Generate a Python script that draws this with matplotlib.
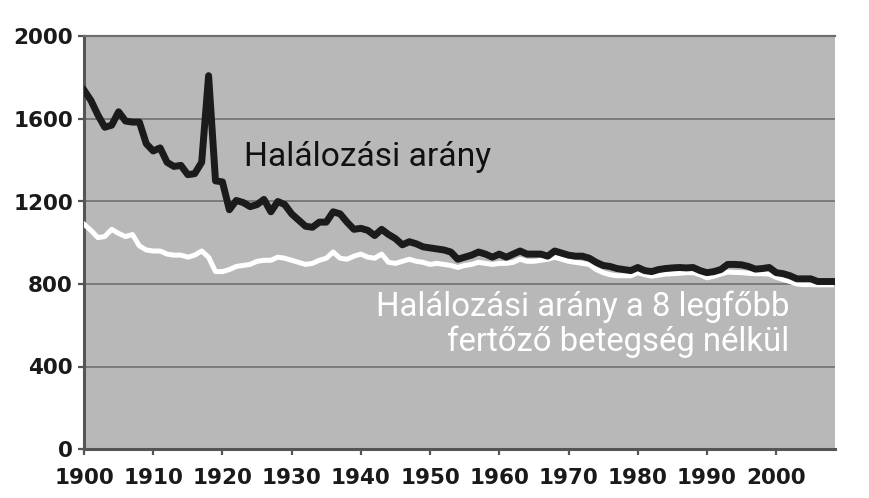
import matplotlib
matplotlib.use("Agg")
import matplotlib.pyplot as plt
import numpy as np

years = list(range(1900, 2009))

total_rate = [
    1740, 1690, 1620, 1560, 1570, 1635, 1590, 1585, 1585, 1480,  # 1900-1909
    1445, 1460, 1390, 1370, 1375, 1330, 1335, 1390, 1810, 1300,  # 1910-1919
    1295, 1160, 1205, 1195, 1175, 1185, 1210, 1150, 1200, 1185,  # 1920-1929
    1140, 1110, 1080, 1075, 1100, 1100, 1150, 1140, 1100, 1065,  # 1930-1939
    1070, 1060, 1035, 1065, 1040, 1020, 990, 1005, 995, 980,     # 1940-1949
    975, 970, 965, 955, 920, 930, 940, 955, 945, 930,            # 1950-1959
    945, 930, 945, 960, 945, 945, 945, 935, 960, 950,            # 1960-1969
    940, 935, 935, 925, 905, 890, 885, 875, 870, 865,            # 1970-1979
    880, 865, 860, 870, 875, 878, 880, 878, 880, 865,            # 1980-1989
    855, 860, 870, 895, 895, 893, 885, 872, 875, 880,            # 1990-1999
    855, 850, 840, 825, 825, 825, 812, 812, 812,                 # 2000-2008
]

noninfectious_rate = [
    1090, 1060, 1025, 1030, 1065, 1045, 1030, 1040, 985, 965,    # 1900-1909
    960, 960, 945, 940, 940, 930, 940, 960, 930, 860,            # 1910-1919
    860, 870, 885, 890, 895, 910, 915, 915, 930, 925,            # 1920-1929
    915, 905, 895, 900, 915, 925, 955, 925, 920, 935,            # 1930-1939
    945, 930, 925, 945, 905, 900, 910, 920, 910, 905,            # 1940-1949
    895, 900, 895, 890, 880, 890, 895, 905, 900, 895,            # 1950-1959
    900, 900, 905, 920, 910, 910, 915, 920, 930, 920,            # 1960-1969
    910, 905, 900, 895, 870, 855, 845, 840, 840, 840,            # 1970-1979
    855, 845, 838, 843, 848, 850, 852, 855, 855, 845,            # 1980-1989
    830, 838, 848, 858, 856, 855, 852, 850, 850, 848,            # 1990-1999
    832, 822, 812, 800, 797, 797, 796, 796, 796,                 # 2000-2008
]

x_ticks = list(range(1900, 2001, 10))
y_ticks = [0, 400, 800, 1200, 1600, 2000]

label_total = "Halálozási arány"
label_non_1 = "Halálozási arány a 8 legfőbb"
label_non_2 = "fertőző betegség nélkül"

fig = plt.figure(figsize=(8.7, 4.98), dpi=100)
ax = fig.add_axes([84 / 870, 1 - 449 / 498, (835 - 84) / 870, (449 - 36.5) / 498])
ax.set_facecolor("#b8b8b8")

ax.plot(years, noninfectious_rate, color="white", lw=3.6, solid_joinstyle="round", zorder=3)
ax.plot(years, total_rate, color="#1b1b1b", lw=5.0, solid_joinstyle="round", zorder=4)

ax.set_xlim(1900, 2008.5)
ax.set_ylim(0, 2000)
ax.set_xticks(x_ticks)
ax.set_yticks(y_ticks)
ax.set_xticklabels([str(v) for v in x_ticks])
ax.set_yticklabels([str(v) for v in y_ticks])

ax.grid(axis="y", color="#7a7a7a", lw=1.4, zorder=1)
ax.set_axisbelow(True)

for s in ["left", "bottom"]:
    ax.spines[s].set_color("#555555")
    ax.spines[s].set_linewidth(2.2)
ax.spines["top"].set_color("#6e6e6e")
ax.spines["top"].set_linewidth(1.6)
ax.spines["right"].set_visible(False)

ax.tick_params(axis="both", colors="#555555", width=1.6, length=4,
               labelcolor="#1a1a1a", labelsize=15.5)
ax.tick_params(axis="y", pad=4)
ax.tick_params(axis="x", pad=10)
for lab in ax.get_xticklabels() + ax.get_yticklabels():
    lab.set_fontweight("bold")
    lab.set_family("DejaVu Sans")

ax.text(1923.1, 1374, label_total, color="#111111", fontsize=24.2,
        family="Roboto", ha="left", va="baseline", zorder=5)
ax.text(2001.9, 644, label_non_1, color="white", fontsize=23.7,
        family="Roboto", ha="right", va="baseline", zorder=5)
ax.text(2001.9, 473, label_non_2, color="white", fontsize=23.7,
        family="Roboto", ha="right", va="baseline", zorder=5)

fig.savefig("out.png", dpi=100)
